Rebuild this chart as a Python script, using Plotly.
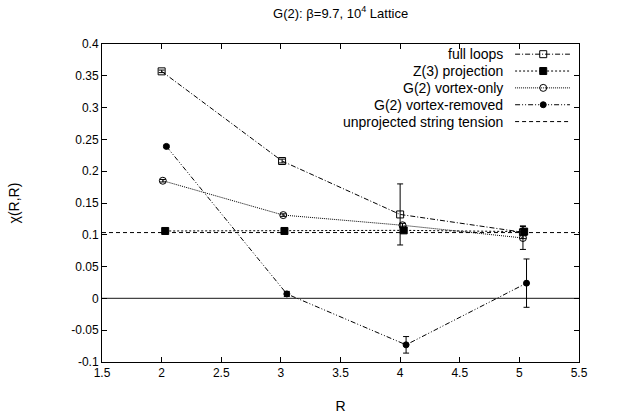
import plotly.graph_objects as go

# ---- data ----
R_full = [2.0, 3.01, 4.0, 5.03]
chi_full = [0.357, 0.216, 0.132, 0.104]
err_full = [0.002, 0.003, 0.048, 0.010]

R_z3 = [2.03, 3.03, 4.03, 5.04]
chi_z3 = [0.106, 0.106, 0.107, 0.105]
err_z3 = [0.001, 0.001, 0.002, 0.003]

R_vo = [2.01, 3.02, 4.02, 5.03]
chi_vo = [0.185, 0.131, 0.115, 0.095]
err_vo = [0.002, 0.002, 0.003, 0.018]

R_vr = [2.04, 3.05, 4.05, 5.06]
chi_vr = [0.239, 0.007, -0.073, 0.024]
err_vr = [0.002, 0.004, 0.013, 0.038]

string_tension = 0.1035

labels = ["full loops", "Z(3) projection", "G(2) vortex-only",
          "G(2) vortex-removed", "unprojected string tension"]

x_ticks = [1.5, 2, 2.5, 3, 3.5, 4, 4.5, 5, 5.5]
x_ticktext = ["1.5", "2", "2.5", "3", "3.5", "4", "4.5", "5", "5.5"]
y_ticks = [-0.1, -0.05, 0, 0.05, 0.1, 0.15, 0.2, 0.25, 0.3, 0.35, 0.4]
y_ticktext = ["-0.1", "-0.05", "0", "0.05", "0.1", "0.15", "0.2", "0.25", "0.3", "0.35", "0.4"]

FONT = "Liberation Sans, Arial, Helvetica, sans-serif"

styles = [
    dict(dash="5px,2px,1px,2px", symbol="square-open", size=7),
    dict(dash="2px,2px", symbol="square", size=7),
    dict(dash="1px,1px", symbol="circle-open", size=7),
    dict(dash="5px,2px,1px,2px,1px,2px", symbol="circle", size=6),
]
series = [(R_full, chi_full, err_full), (R_z3, chi_z3, err_z3),
          (R_vo, chi_vo, err_vo), (R_vr, chi_vr, err_vr)]

fig = go.Figure()

# zero axis
fig.add_trace(go.Scatter(x=[1.5, 5.5], y=[0, 0], mode="lines",
                         line=dict(color="#444444", width=1.2),
                         showlegend=False, hoverinfo="skip"))
# unprojected string tension
fig.add_trace(go.Scatter(x=[1.5, 5.5], y=[string_tension, string_tension], mode="lines",
                         line=dict(color="black", width=1, dash="4px,3px"),
                         showlegend=False))

for (xs, ys, es), st, name in zip(series, styles, labels):
    fig.add_trace(go.Scatter(
        x=xs, y=ys, mode="lines+markers", name=name, showlegend=False,
        line=dict(color="black", width=1, dash=st["dash"]),
        marker=dict(symbol=st["symbol"], size=st["size"], color="black",
                    line=dict(color="black", width=1)),
        error_y=dict(type="data", array=es, visible=True, color="black",
                     thickness=1, width=3),
    ))

# custom legend (gnuplot style: text left, sample right) on overlay axes
rows = [0.968, 0.915, 0.862, 0.809, 0.756]
for i, name in enumerate(labels):
    yv = rows[i]
    if i < 4:
        st = styles[i]
        fig.add_trace(go.Scatter(
            x=[0.866, 0.981], y=[yv, yv], xaxis="x2", yaxis="y2", mode="lines",
            line=dict(color="black", width=1, dash=st["dash"]),
            showlegend=False, hoverinfo="skip"))
        fig.add_trace(go.Scatter(
            x=[0.925], y=[yv], xaxis="x2", yaxis="y2", mode="markers",
            marker=dict(symbol=st["symbol"], size=st["size"], color="black",
                        line=dict(color="black", width=1)),
            showlegend=False, hoverinfo="skip"))
    else:
        fig.add_trace(go.Scatter(
            x=[0.866, 0.981], y=[yv, yv], xaxis="x2", yaxis="y2", mode="lines",
            line=dict(color="black", width=1, dash="4px,3px"),
            showlegend=False, hoverinfo="skip"))
    fig.add_annotation(x=0.845, y=yv, xref="x2", yref="y2", text=name,
                       showarrow=False, xanchor="right", yanchor="middle",
                       font=dict(family=FONT, size=14, color="black"))

fig.update_layout(
    width=625, height=417,
    margin=dict(l=102, r=46, t=44, b=55),
    paper_bgcolor="white", plot_bgcolor="white",
    font=dict(family=FONT, size=12, color="black"),
    title=dict(text="G(2): β=9.7, 10<sup>4</sup> Lattice", x=0.545, xanchor="center",
               y=0.968, yanchor="middle", font=dict(family=FONT, size=13)),
    showlegend=False,
    xaxis=dict(range=[1.5, 5.5], tickvals=x_ticks, ticktext=x_ticktext,
               ticks="inside", ticklen=5, tickcolor="black", mirror="ticks",
               showline=True, linecolor="black", linewidth=1, showgrid=False,
               zeroline=False, title=dict(text="R", standoff=21),
               tickfont=dict(size=12), automargin=False),
    yaxis=dict(range=[-0.1, 0.4], tickvals=y_ticks, ticktext=y_ticktext,
               ticks="inside", ticklen=5, tickcolor="black", mirror="ticks",
               showline=True, linecolor="black", linewidth=1, showgrid=False,
               zeroline=False, title=dict(text="χ(R,R)", standoff=48),
               tickfont=dict(size=12), automargin=False),
    xaxis2=dict(range=[0, 1], overlaying="x", visible=False, anchor="y2"),
    yaxis2=dict(range=[0, 1], overlaying="y", visible=False, anchor="x2"),
)

fig.write_html("out.html")
